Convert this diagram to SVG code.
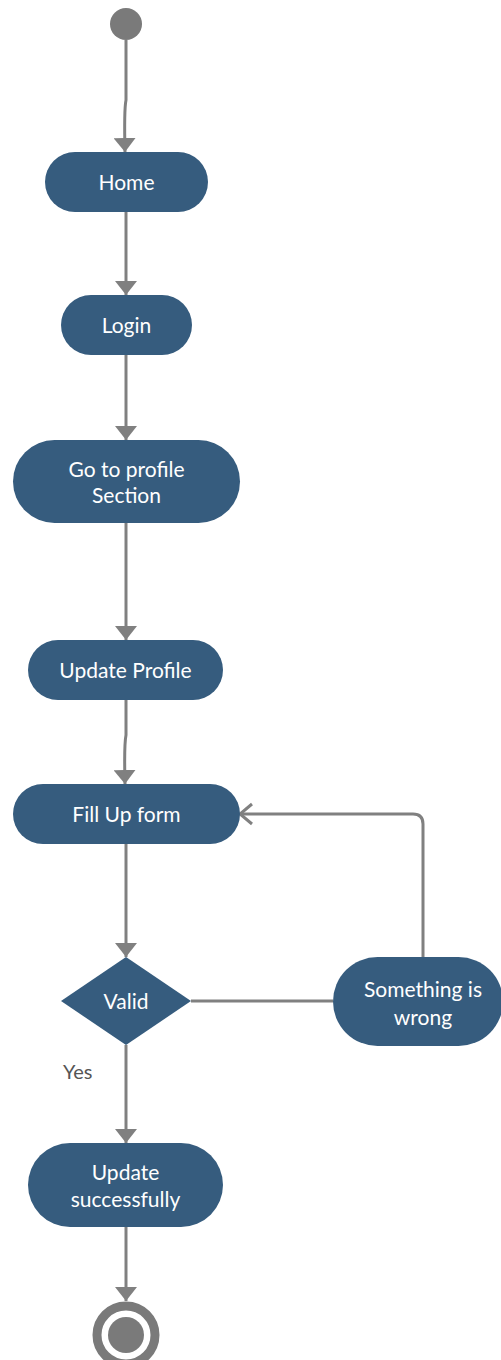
<svg xmlns="http://www.w3.org/2000/svg" width="501" height="1360" viewBox="0 0 501 1360">
<defs>
<style>
.node{fill:#365c7e}
.lbl{font-family:Lato,"Open Sans","Liberation Sans",sans-serif;font-size:21px;fill:#ffffff;text-anchor:middle}
.edge{fill:none;stroke:#808080;stroke-width:3}
.yes{font-family:Lato,"Open Sans","Liberation Sans",sans-serif;font-size:20px;fill:#555555}
</style>
<marker id="arr" viewBox="0 0 14 22" refX="14" refY="11" markerWidth="14" markerHeight="22" markerUnits="userSpaceOnUse" orient="auto">
<path d="M0,0 L14,11 L0,22 Z" fill="#808080"/>
</marker>
<marker id="open" viewBox="0 0 16 24" refX="14" refY="12" markerWidth="16" markerHeight="24" markerUnits="userSpaceOnUse" orient="auto">
<path d="M2,2 L14,12 L2,22" fill="none" stroke="#808080" stroke-width="3"/>
</marker>
</defs>
<g id="connectors">
<path class="edge" d="M126,40 L126,100 Q124,110 125,152" marker-end="url(#arr)"/>
<path class="edge" d="M126,212 L126,295" marker-end="url(#arr)"/>
<path class="edge" d="M126,355 L126,440" marker-end="url(#arr)"/>
<path class="edge" d="M126,523 L126,640" marker-end="url(#arr)"/>
<path class="edge" d="M126,700 L126,735 Q124,745 125,784" marker-end="url(#arr)"/>
<path class="edge" d="M126,844 L126,957" marker-end="url(#arr)"/>
<path class="edge" d="M423,957 L423,824 Q423,814 413,814 L240,814" marker-end="url(#open)"/>
<path class="edge" d="M191,1001 L333,1001"/>
<path class="edge" d="M126,1045 L126,1143" marker-end="url(#arr)"/>
<path class="edge" d="M126,1227 L126,1301" marker-end="url(#arr)"/>
</g>
<g id="start"><circle cx="126" cy="24" r="16" fill="#7a7a7a"/></g>
<g id="home"><rect class="node" x="45" y="152" width="163" height="60" rx="30"/><text class="lbl" x="126.5" y="190">Home</text></g>
<g id="login"><rect class="node" x="61" y="295" width="131" height="60" rx="30"/><text class="lbl" x="126.5" y="333">Login</text></g>
<g id="profile"><rect class="node" x="13" y="440" width="227" height="83" rx="41.5"/><text class="lbl" x="126.5" y="477">Go to profile</text><text class="lbl" x="126.5" y="503">Section</text></g>
<g id="update"><rect class="node" x="28" y="640" width="195" height="60" rx="30"/><text class="lbl" x="125.5" y="678">Update Profile</text></g>
<g id="fill"><rect class="node" x="13" y="784" width="227" height="60" rx="30"/><text class="lbl" x="126.5" y="822">Fill Up form</text></g>
<g id="valid"><polygon class="node" points="126,957 191,1001 126,1045 61,1001"/><text class="lbl" x="126" y="1009">Valid</text></g>
<g id="wrong"><rect class="node" x="333" y="957" width="170" height="89" rx="44.5"/><text class="lbl" x="423" y="997">Something is</text><text class="lbl" x="423" y="1025">wrong</text></g>
<text class="yes" x="63" y="1079">Yes</text>
<g id="success"><rect class="node" x="28" y="1143" width="195" height="84" rx="42"/><text class="lbl" x="125.5" y="1180">Update</text><text class="lbl" x="125.5" y="1207">successfully</text></g>
<g id="end"><circle cx="126" cy="1335" r="29" fill="none" stroke="#7a7a7a" stroke-width="9"/><circle cx="126" cy="1335" r="18" fill="#7a7a7a"/></g>
</svg>
